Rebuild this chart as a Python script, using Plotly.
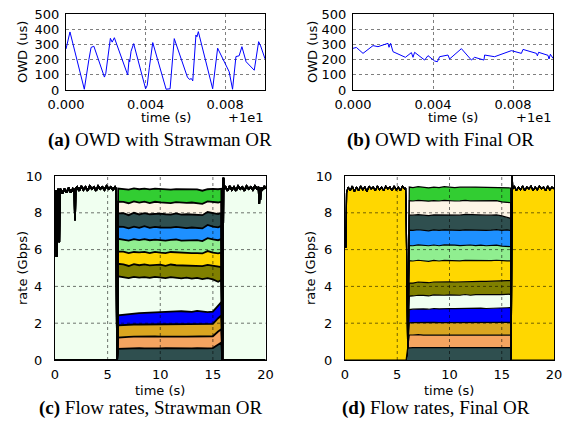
import plotly.graph_objects as go

W, H = 565, 428

# ---------------- (a) OWD with Strawman OR ----------------
owd_a_t = [0.0, 0.0002, 0.00092, 0.00104, 0.00115, 0.00126, 0.0014, 0.00193, 0.0020, 0.00223,
           0.00232, 0.00243, 0.0031, 0.00317, 0.0032, 0.00327, 0.0034, 0.0040, 0.00408, 0.00419,
           0.00436, 0.00503, 0.00523, 0.00544, 0.0061, 0.0062, 0.0063, 0.00637, 0.00653, 0.00658,
           0.00665, 0.00737, 0.0075, 0.00762, 0.0082, 0.00837, 0.00854, 0.0087, 0.00884, 0.00905,
           0.00946, 0.00955, 0.00968, 0.00978, 0.0100]
owd_a_us = [270, 382, 5, 120, 200, 280, 288, 85, 110, 340,
            315, 344, 99, 200, 185, 255, 305, 8, 30, 150,
            312, 5, 8, 338, 85, 70, 75, 60, 362, 350,
            384, 8, 150, 275, 120, 5, 220, 225, 285, 186,
            130, 210, 318, 290, 205]

# ---------------- (b) OWD with Final OR ----------------
owd_b_t = [0.0, 0.00017, 0.0005, 0.001, 0.00125, 0.00175, 0.0018, 0.00188, 0.002, 0.00262,
           0.00292, 0.003, 0.00308, 0.00358, 0.00375, 0.00408, 0.00422, 0.00433, 0.00475, 0.00483,
           0.00542, 0.00592, 0.00608, 0.00655, 0.00658, 0.00708, 0.00792, 0.00842, 0.0085, 0.00917,
           0.00922, 0.00928, 0.00975, 0.0098, 0.00987, 0.0100]
owd_b_us = [274, 280, 241, 292, 285, 307, 281, 307, 252, 215,
            246, 215, 248, 197, 226, 191, 186, 219, 230, 204,
            272, 197, 215, 197, 230, 219, 259, 241, 267, 241,
            225, 248, 228, 204, 235, 208]

owd_xticks = [0.0, 0.004, 0.008]
owd_xticktext = ["0.000", "0.004", "0.008"]
owd_yticks = [0, 100, 200, 300, 400, 500]

# ---------------- flow colours (bottom to top) ----------------
flow_colors = ["#2F4F4F", "#F4A460", "#DAA520", "#0000FF", "#F0FFF0", "#808000",
               "#FFD700", "#90EE90", "#1E90FF", "#2F4F4F", "#FDF5E6", "#32CD32"]

# ---------------- (c) Flow rates, Strawman OR ----------------
c_long_index = 4  # honeydew flow runs the whole time
c_long_pre_t = [0.0, 0.1, 0.15, 0.2, 0.3, 0.4, 0.45, 0.5, 0.7, 0.9, 1.1, 1.3, 1.5, 1.7, 1.85, 1.9,
                1.95, 2.1, 2.3, 2.5, 2.7, 2.9, 3.1, 3.3, 3.5, 3.7, 3.9, 4.1, 4.3, 4.5, 4.7, 4.9,
                5.1, 5.3, 5.5, 5.7, 5.8]
c_long_pre = [8.9, 9.2, 5.6, 9.1, 9.3, 6.4, 9.2, 9.3, 9.05, 9.3, 9.1, 9.35, 9.1, 9.3, 9.2, 7.6,
              9.3, 9.4, 9.2, 9.45, 9.25, 9.4, 9.2, 9.45, 9.3, 9.4, 9.2, 9.45, 9.3, 9.4, 9.25, 9.45,
              9.3, 9.4, 9.25, 9.4, 9.3]
c_gap_start = [5.9]
c_gap_end = [15.9]
c_long_post_t = [16.0, 16.05, 16.2, 16.4, 16.6, 16.8, 17.0, 17.2, 17.4, 17.6, 17.8, 18.0, 18.2,
                 18.4, 18.6, 18.8, 19.0, 19.2, 19.35, 19.4, 19.45, 19.5, 19.55, 19.7, 19.9, 20.0]
c_long_post = [9.9, 9.3, 9.4, 9.2, 9.45, 9.25, 9.4, 9.2, 9.45, 9.3, 9.4, 9.2, 9.45,
               9.3, 9.4, 9.25, 9.45, 9.3, 9.4, 8.5, 9.3, 8.7, 9.35, 9.25, 9.45, 9.3]
c_mid_t = [6.0, 6.5, 7.0, 7.5, 8.0, 8.5, 9.0, 9.5, 10.0, 10.5, 11.0, 11.5, 12.0, 12.5, 13.0,
           13.5, 14.0, 14.5, 15.0, 15.5, 15.8]
c_flow01 = [0.60, 0.62, 0.63, 0.62, 0.64, 0.63, 0.62, 0.64, 0.63, 0.65, 0.64, 0.63, 0.62, 0.64, 0.63, 0.64, 0.62, 0.63, 0.65, 0.85, 0.95]
c_flow02 = [0.62, 0.64, 0.63, 0.65, 0.64, 0.63, 0.65, 0.64, 0.64, 0.63, 0.65, 0.64, 0.65, 0.63, 0.64, 0.65, 0.64, 0.63, 0.64, 0.70, 0.72]
c_flow03 = [0.66, 0.65, 0.67, 0.66, 0.65, 0.67, 0.66, 0.66, 0.67, 0.65, 0.66, 0.67, 0.66, 0.66, 0.65, 0.67, 0.66, 0.66, 0.67, 0.72, 0.75]
c_flow04 = [0.55, 0.56, 0.58, 0.60, 0.62, 0.63, 0.65, 0.66, 0.68, 0.69, 0.71, 0.70, 0.72, 0.71, 0.70, 0.71, 0.70, 0.68, 0.67, 0.70, 0.72]
c_flow05 = [2.12, 2.03, 1.94, 1.99, 1.93, 1.94, 1.88, 1.92, 1.86, 1.83, 1.84, 1.83, 1.79, 1.84, 1.80, 1.79, 1.78, 1.85, 1.75, 1.28, 1.21]
c_flow06 = [0.68, 0.70, 0.66, 0.69, 0.67, 0.70, 0.68, 0.66, 0.70, 0.67, 0.69, 0.68, 0.70, 0.66, 0.69, 0.68, 0.70, 0.72, 0.75, 0.80, 0.70]
c_flow07 = [0.67, 0.69, 0.70, 0.66, 0.70, 0.68, 0.67, 0.70, 0.66, 0.69, 0.68, 0.70, 0.67, 0.69, 0.70, 0.67, 0.69, 0.75, 0.70, 0.74, 0.78]
c_flow08 = [0.69, 0.66, 0.68, 0.70, 0.67, 0.69, 0.70, 0.66, 0.69, 0.68, 0.66, 0.70, 0.68, 0.67, 0.69, 0.70, 0.67, 0.70, 0.72, 0.72, 0.74]
c_flow09 = [0.66, 0.69, 0.67, 0.68, 0.66, 0.70, 0.67, 0.69, 0.67, 0.70, 0.66, 0.68, 0.69, 0.67, 0.70, 0.66, 0.69, 0.72, 0.70, 0.70, 0.72]
c_flow10 = [0.72, 0.74, 0.71, 0.75, 0.73, 0.71, 0.74, 0.72, 0.75, 0.73, 0.71, 0.74, 0.72, 0.75, 0.71, 0.74, 0.72, 0.70, 0.73, 0.72, 0.70]
c_flow11 = [0.63, 0.61, 0.65, 0.62, 0.64, 0.63, 0.61, 0.65, 0.62, 0.64, 0.63, 0.61, 0.64, 0.62, 0.65, 0.63, 0.62, 0.58, 0.62, 0.63, 0.62]
c_flow12 = [0.72, 0.70, 0.74, 0.71, 0.73, 0.70, 0.74, 0.71, 0.72, 0.70, 0.73, 0.71, 0.74, 0.72, 0.70, 0.73, 0.71, 0.66, 0.70, 0.72, 0.70]

# ---------------- (d) Flow rates, Final OR ----------------
d_long_index = 6  # gold flow runs the whole time
d_long_pre_t = [0.0, 0.08, 0.15, 0.3, 0.5, 0.7, 0.9, 1.1, 1.3, 1.5, 1.7, 1.9, 2.1, 2.3, 2.5, 2.7,
                2.9, 3.1, 3.3, 3.5, 3.7, 3.9, 4.1, 4.3, 4.5, 4.7, 4.9, 5.1, 5.3, 5.5, 5.7, 5.8, 5.85]
d_long_pre = [7.2, 6.1, 9.1, 9.4, 9.2, 9.45, 9.15, 9.4, 9.2, 9.45, 9.25, 9.4, 9.15, 9.45, 9.3, 9.4,
              9.2, 9.45, 9.25, 9.4, 9.2, 9.45, 9.3, 9.4, 9.2, 9.45, 9.25, 9.4, 9.2, 9.45, 9.3, 9.35, 8.2]
d_gap_start = []
d_gap_end = [15.9]
d_long_post_t = [16.0, 16.05, 16.2, 16.4, 16.6, 16.8, 17.0, 17.2, 17.4, 17.6, 17.8, 18.0, 18.2,
                 18.4, 18.6, 18.8, 19.0, 19.2, 19.4, 19.6, 19.8, 20.0]
d_long_post = [10.0, 9.3, 9.45, 9.2, 9.4, 9.25, 9.45, 9.2, 9.4, 9.3, 9.45, 9.2, 9.4,
               9.25, 9.45, 9.3, 9.4, 9.2, 9.45, 9.25, 9.4, 9.3]
d_mid_t = [6.0, 6.15, 6.5, 7.0, 7.5, 8.0, 8.5, 9.0, 9.5, 10.0, 10.5, 11.0, 11.5, 12.0, 12.5,
           13.0, 13.5, 14.0, 14.5, 15.0, 15.5, 15.85]
d_flow01 = [0.68, 0.66, 0.67, 0.68, 0.67, 0.66, 0.68, 0.67, 0.67, 0.68, 0.66, 0.67, 0.68, 0.67, 0.66, 0.68, 0.67, 0.67, 0.68, 0.66, 0.67, 0.67]
d_flow02 = [0.0, 0.70, 0.69, 0.70, 0.68, 0.69, 0.70, 0.69, 0.68, 0.70, 0.69, 0.69, 0.70, 0.68, 0.69, 0.70, 0.69, 0.68, 0.70, 0.69, 0.69, 0.68]
d_flow03 = [0.0, 0.66, 0.67, 0.66, 0.68, 0.67, 0.66, 0.67, 0.68, 0.66, 0.67, 0.68, 0.66, 0.67, 0.68, 0.67, 0.66, 0.68, 0.67, 0.68, 0.70, 0.70]
d_flow04 = [0.0, 0.72, 0.73, 0.74, 0.75, 0.74, 0.76, 0.75, 0.77, 0.76, 0.77, 0.76, 0.78, 0.77, 0.78, 0.77, 0.78, 0.79, 0.78, 0.79, 0.78, 0.80]
d_flow05 = [0.0, 0.73, 0.72, 0.74, 0.73, 0.72, 0.74, 0.73, 0.72, 0.74, 0.73, 0.72, 0.74, 0.73, 0.74, 0.72, 0.73, 0.74, 0.72, 0.73, 0.74, 0.73]
d_flow06 = [0.0, 0.71, 0.70, 0.72, 0.71, 0.72, 0.70, 0.72, 0.73, 0.71, 0.72, 0.73, 0.72, 0.74, 0.72, 0.73, 0.74, 0.73, 0.75, 0.74, 0.73, 0.74]
d_flow07 = [0.0, 1.22, 1.20, 1.18, 1.17, 1.16, 1.17, 1.15, 1.16, 1.14, 1.15, 1.14, 1.13, 1.14, 1.12, 1.13, 1.12, 1.11, 1.12, 1.10, 1.08, 1.07]
d_flow08 = [0.0, 0.82, 0.83, 0.84, 0.83, 0.85, 0.84, 0.83, 0.85, 0.84, 0.85, 0.83, 0.84, 0.85, 0.83, 0.84, 0.82, 0.83, 0.82, 0.80, 0.78, 0.77]
d_flow09 = [0.0, 0.84, 0.83, 0.82, 0.83, 0.81, 0.82, 0.83, 0.81, 0.82, 0.81, 0.83, 0.82, 0.81, 0.83, 0.82, 0.84, 0.83, 0.85, 0.86, 0.90, 0.88]
d_flow10 = [0.0, 0.82, 0.83, 0.82, 0.84, 0.83, 0.82, 0.84, 0.83, 0.82, 0.83, 0.82, 0.84, 0.83, 0.82, 0.83, 0.82, 0.81, 0.80, 0.78, 0.68, 0.66]
d_flow11 = [0.0, 0.78, 0.77, 0.78, 0.76, 0.78, 0.77, 0.76, 0.78, 0.77, 0.76, 0.78, 0.77, 0.76, 0.78, 0.77, 0.76, 0.78, 0.77, 0.76, 0.82, 0.85]
d_flow12 = [0.0, 0.74, 0.73, 0.74, 0.75, 0.73, 0.74, 0.73, 0.74, 0.75, 0.73, 0.74, 0.73, 0.74, 0.75, 0.73, 0.74, 0.75, 0.73, 0.76, 0.80, 0.80]

rate_xticks = [0, 5, 10, 15, 20]
rate_yticks = [0, 2, 4, 6, 8, 10]


def assemble(pre_t, pre_v, gap_a, mid_t, mids, gap_b, post_t, post_v, long_idx):
    t = pre_t + gap_a + mid_t + gap_b + post_t
    out = []
    for i, m in enumerate(mids):
        if i == long_idx:
            y = pre_v + [0.0] * len(gap_a) + m + [0.0] * len(gap_b) + post_v
        else:
            y = [0.0] * (len(pre_t) + len(gap_a)) + m + [0.0] * (len(gap_b) + len(post_t))
        out.append(y)
    return t, out


c_t, c_flows = assemble(c_long_pre_t, c_long_pre, c_gap_start, c_mid_t,
                        [c_flow01, c_flow02, c_flow03, c_flow04, c_flow05, c_flow06,
                         c_flow07, c_flow08, c_flow09, c_flow10, c_flow11, c_flow12],
                        c_gap_end, c_long_post_t, c_long_post, c_long_index)
d_t, d_flows = assemble(d_long_pre_t, d_long_pre, d_gap_start, d_mid_t,
                        [d_flow01, d_flow02, d_flow03, d_flow04, d_flow05, d_flow06,
                         d_flow07, d_flow08, d_flow09, d_flow10, d_flow11, d_flow12],
                        d_gap_end, d_long_post_t, d_long_post, d_long_index)

fig = go.Figure()

fig.add_trace(go.Scatter(x=owd_a_t, y=owd_a_us, mode="lines", line=dict(color="#0000FF", width=1),
                         xaxis="x", yaxis="y", hoverinfo="skip"))
fig.add_trace(go.Scatter(x=owd_b_t, y=owd_b_us, mode="lines", line=dict(color="#0000FF", width=1),
                         xaxis="x2", yaxis="y2", hoverinfo="skip"))

for y, col in zip(c_flows, flow_colors):
    fig.add_trace(go.Scatter(x=c_t, y=y, mode="lines", stackgroup="sc",
                             line=dict(color="black", width=1.8), fillcolor=col,
                             xaxis="x3", yaxis="y3", hoverinfo="skip"))
for y, col in zip(d_flows, flow_colors):
    fig.add_trace(go.Scatter(x=d_t, y=y, mode="lines", stackgroup="sd",
                             line=dict(color="black", width=1.2), fillcolor=col,
                             xaxis="x4", yaxis="y4", hoverinfo="skip"))


def fx(px):
    return px / W


def fy(py):
    return 1 - py / H


tickfont = dict(family="DejaVu Sans", size=13, color="black")
axis_common = dict(showline=True, mirror=True, linecolor="black", linewidth=1,
                   ticks="", zeroline=False, tickfont=tickfont, layer="above traces",
                   fixedrange=True, automargin=False)
grid_owd = dict(showgrid=True, gridcolor="rgba(0,0,0,0.5)", griddash="dot", gridwidth=1)

fig.update_layout(
    template="none",
    width=W, height=H, margin=dict(l=0, r=0, t=0, b=0, pad=0, autoexpand=False),
    paper_bgcolor="white", plot_bgcolor="white", showlegend=False,
    xaxis=dict(domain=[fx(66), fx(265)], anchor="y", range=[0, 0.01], tickvals=owd_xticks,
               ticktext=owd_xticktext, ticklabelstandoff=2, **grid_owd, **axis_common),
    yaxis=dict(domain=[fy(90), fy(14)], anchor="x", range=[0, 500], tickvals=owd_yticks,
               ticklabelstandoff=3, **grid_owd, **axis_common),
    xaxis2=dict(domain=[fx(353), fx(553)], anchor="y2", range=[0, 0.01], tickvals=owd_xticks,
                ticktext=owd_xticktext, ticklabelstandoff=2, **grid_owd, **axis_common),
    yaxis2=dict(domain=[fy(90), fy(14)], anchor="x2", range=[0, 500], tickvals=owd_yticks,
                ticklabelstandoff=3, **grid_owd, **axis_common),
    xaxis3=dict(domain=[fx(55), fx(265.5)], anchor="y3", range=[0, 20], tickvals=rate_xticks,
                ticklabelstandoff=2, showgrid=False, **axis_common),
    yaxis3=dict(domain=[fy(360), fy(176)], anchor="x3", range=[0, 10], tickvals=rate_yticks,
                ticklabelstandoff=9, showgrid=False, **axis_common),
    xaxis4=dict(domain=[fx(345), fx(554)], anchor="y4", range=[0, 20], tickvals=rate_xticks,
                ticklabelstandoff=2, showgrid=False, **axis_common),
    yaxis4=dict(domain=[fy(360), fy(176)], anchor="x4", range=[0, 10], tickvals=rate_yticks,
                ticklabelstandoff=9, showgrid=False, **axis_common),
)

# dotted grid drawn above the filled areas (as in the reference)
shapes = []
grid_line = dict(color="rgba(0,0,0,0.55)", width=1, dash="dot")
for xa, ya in (("x3", "y3"), ("x4", "y4")):
    for xv in rate_xticks[1:-1]:
        shapes.append(dict(type="line", xref=xa, yref=ya + " domain", x0=xv, x1=xv, y0=0, y1=1,
                           line=grid_line, layer="above"))
    for yv in rate_yticks[1:-1]:
        shapes.append(dict(type="line", xref=xa + " domain", yref=ya, x0=0, x1=1, y0=yv, y1=yv,
                           line=grid_line, layer="above"))
fig.update_layout(shapes=shapes)

label_font = dict(family="DejaVu Sans", size=13, color="black")
cap_font = dict(family="Liberation Serif", size=19, color="black")
ann = []
# x-axis titles and offset texts
ann.append(dict(text="time (s)", x=fx(165.5), y=fy(118), xanchor="center", yanchor="middle", font=label_font))
ann.append(dict(text="+1e1", x=fx(265), y=fy(118), xanchor="right", yanchor="middle", font=label_font))
ann.append(dict(text="time (s)", x=fx(453), y=fy(118), xanchor="center", yanchor="middle", font=label_font))
ann.append(dict(text="+1e1", x=fx(553), y=fy(118), xanchor="right", yanchor="middle", font=label_font))
ann.append(dict(text="time (s)", x=fx(160), y=fy(390.5), xanchor="center", yanchor="middle", font=label_font))
ann.append(dict(text="time (s)", x=fx(449), y=fy(390.5), xanchor="center", yanchor="middle", font=label_font))
# y-axis titles
ann.append(dict(text="OWD (us)", x=fx(22), y=fy(52), textangle=-90, xanchor="center", yanchor="middle", font=label_font))
ann.append(dict(text="OWD (us)", x=fx(312), y=fy(52), textangle=-90, xanchor="center", yanchor="middle", font=label_font))
ann.append(dict(text="rate (Gbps)", x=fx(22), y=fy(268), textangle=-90, xanchor="center", yanchor="middle", font=label_font))
ann.append(dict(text="rate (Gbps)", x=fx(310), y=fy(268), textangle=-90, xanchor="center", yanchor="middle", font=label_font))
# captions
ann.append(dict(text="<b>(a)</b> OWD with Strawman OR", x=fx(160), y=fy(140), xanchor="center", yanchor="middle", font=cap_font))
ann.append(dict(text="<b>(b)</b> OWD with Final OR", x=fx(440), y=fy(140), xanchor="center", yanchor="middle", font=cap_font))
ann.append(dict(text="<b>(c)</b> Flow rates, Strawman OR", x=fx(151), y=fy(408), xanchor="center", yanchor="middle", font=cap_font))
ann.append(dict(text="<b>(d)</b> Flow rates, Final OR", x=fx(436), y=fy(408), xanchor="center", yanchor="middle", font=cap_font))
for a in ann:
    a.update(xref="paper", yref="paper", showarrow=False)
fig.update_layout(annotations=ann)

fig.write_html("out.html", config={"displayModeBar": False, "staticPlot": True},
               post_script="document.body.style.margin='0px';document.body.style.overflow='hidden';")
